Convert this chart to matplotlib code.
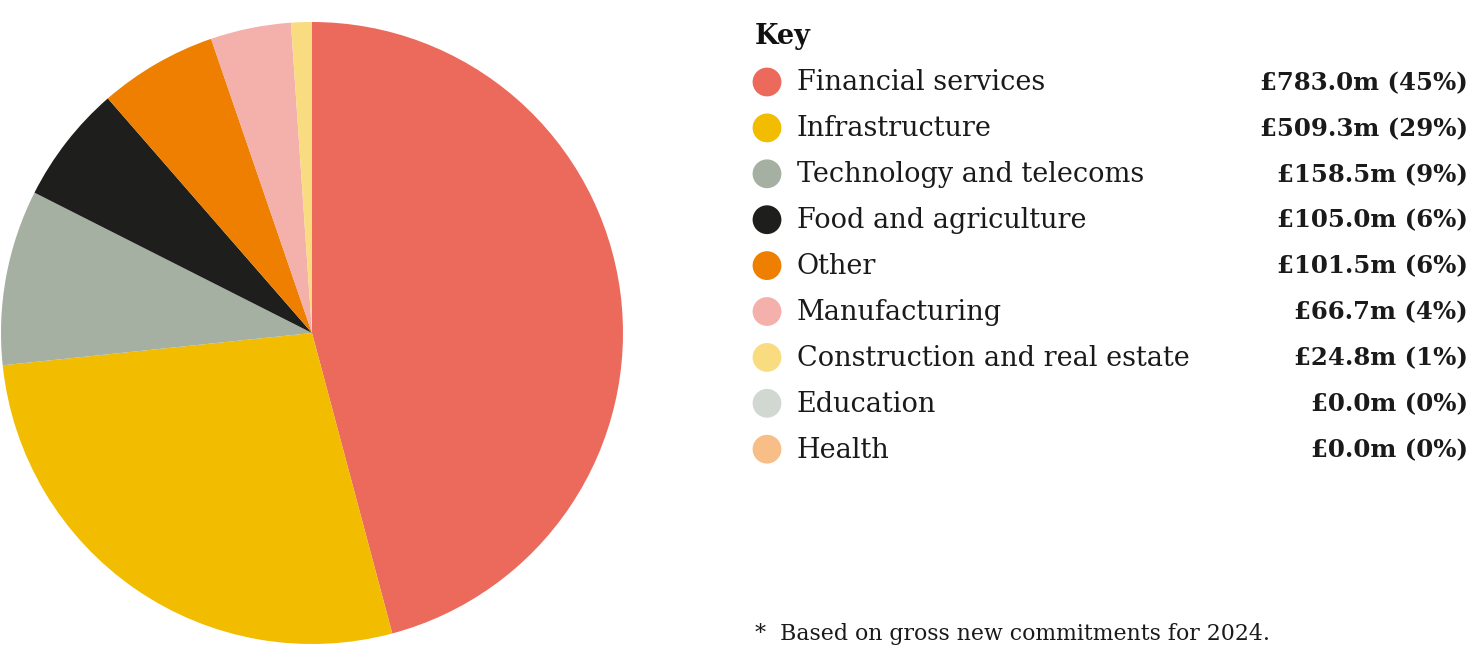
import matplotlib.pyplot as plt

# Sector split of gross new commitments, 2024
sectors = ['Financial services', 'Infrastructure', 'Technology and telecoms',
           'Food and agriculture', 'Other', 'Manufacturing',
           'Construction and real estate', 'Education', 'Health']
amounts = [783.0, 509.3, 158.5, 105.0, 101.5, 66.7, 24.8, 0.0, 0.0]
shares = [45, 29, 9, 6, 6, 4, 1, 0, 0]
# slice sizes as drawn in the original pie (% of circle)
slice_sizes = [45.85, 27.5, 9.11, 6.15, 6.14, 4.18, 1.08, 0.0, 0.0]
colours = ['#EC6A5C', '#F2BC00', '#A5B0A2', '#1E1E1C', '#EE7F00',
           '#F4B0AA', '#F9DC80', '#D1D8D2', '#F7BE88']

W, H = 1469, 649
fig = plt.figure(figsize=(W / 100, H / 100), dpi=100)

# pie: centre at (312, 333) px, radius 311 px
cx, cy, r = 312, 333, 311
ax = fig.add_axes([(cx - r) / W, (H - cy - r) / H, 2 * r / W, 2 * r / H])
drawn = [(v, c) for v, c in zip(slice_sizes, colours) if v > 0]
ax.pie([v for v, _ in drawn], colors=[c for _, c in drawn], startangle=90,
       counterclock=False, radius=1, wedgeprops={'linewidth': 0})
ax.set_xlim(-1, 1)
ax.set_ylim(-1, 1)

# key drawn on an overlay in pixel space
key = fig.add_axes([0, 0, 1, 1])
key.set_xlim(0, W)
key.set_ylim(H, 0)
key.axis('off')

serif = 'DejaVu Serif'
key.text(755, 37, 'Key', fontsize=19.5, fontweight='bold', family=serif,
         va='center', ha='left', color='#111111')

y0, step = 82, 45.9
rows = [y0 + i * step for i in range(len(sectors))]
key.scatter([767] * len(sectors), rows, s=430, c=colours, linewidths=0)
for y, name, amt, pct in zip(rows, sectors, amounts, shares):
    key.text(797, y + 1, name, fontsize=19.5, family=serif, va='center',
             ha='left', color='#1a1a1a')
    key.text(1468, y + 1, f'£{amt:.1f}m ({pct}%)', fontsize=17.6,
             fontweight='bold', family=serif, va='center', ha='right',
             color='#1a1a1a')

key.text(755, 634, '*  Based on gross new commitments for 2024.', fontsize=15.8,
         family=serif, va='center', ha='left', color='#1a1a1a')

fig.savefig('out.png', dpi=100)
